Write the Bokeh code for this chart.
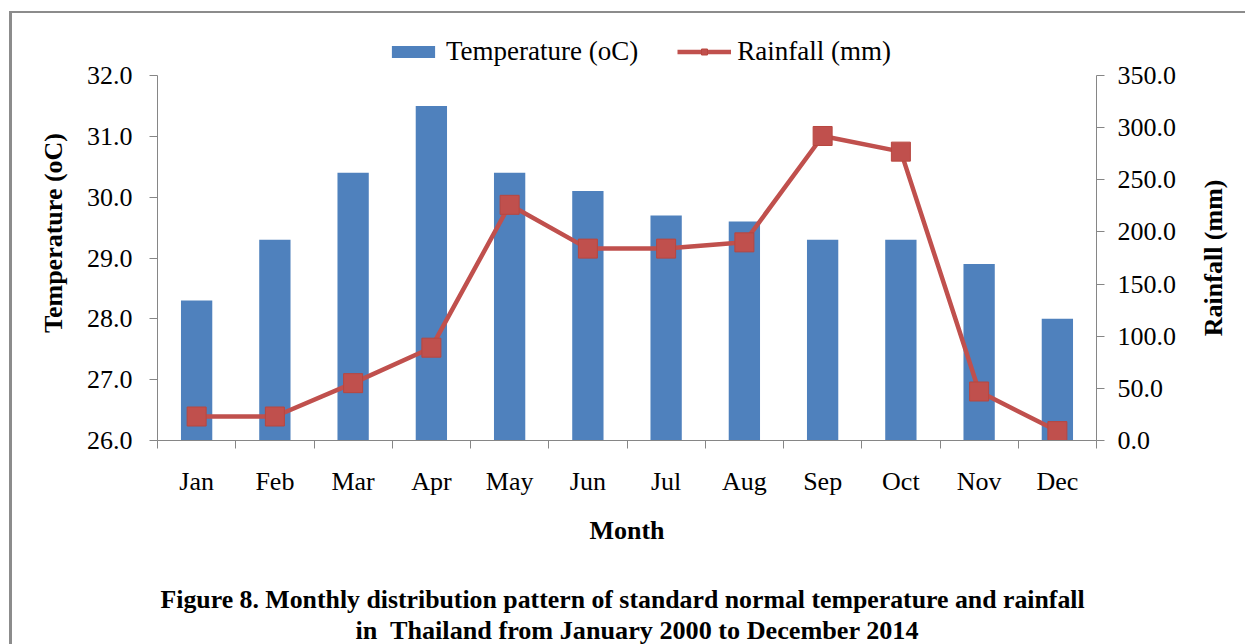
import numpy as np
from bokeh.plotting import figure
from bokeh.models import (Range1d, LinearAxis, FixedTicker, NumeralTickFormatter,
                          Legend, LegendItem, Title, ColumnDataSource)
from bokeh.embed import file_html
from bokeh.resources import INLINE

months = ["Jan", "Feb", "Mar", "Apr", "May", "Jun", "Jul", "Aug", "Sep", "Oct", "Nov", "Dec"]
temperature = [28.3, 29.3, 30.4, 31.5, 30.4, 30.1, 29.7, 29.6, 29.3, 29.3, 28.9, 28.0]
rainfall = [23, 23, 55, 89, 226, 184, 184, 190, 292, 277, 47, 9]
temp_ticks = [26, 27, 28, 29, 30, 31, 32]
rain_ticks = [0, 50, 100, 150, 200, 250, 300, 350]

FONT = "Liberation Serif"
GRAY = "#868686"
BLUE = "#4F81BD"
RED = "#C0504D"

# layout constants (pixels)
FRAME_TOP = 25          # frame extends above the axes' top to hold the legend
AXIS_TOP = 75
AXIS_BOTTOM = 440
head = (AXIS_TOP - FRAME_TOP) / (AXIS_BOTTOM - AXIS_TOP)   # fraction of axis span

t0, t1 = temp_ticks[0], temp_ticks[-1]
r0, r1 = rain_ticks[0], rain_ticks[-1]

centers = list(np.arange(len(months)) + 0.5)
bounds = list(np.arange(len(months) + 1).astype(float))

src = ColumnDataSource(dict(x=centers, temp=temperature, rain=rainfall, m=months))

p = figure(width=1245, height=644, output_backend="svg", toolbar_location=None,
           x_range=Range1d(0, len(months)),
           y_range=Range1d(t0, t1 + (t1 - t0) * head),
           min_border_left=157, min_border_right=148, min_border_top=FRAME_TOP,
           min_border_bottom=644 - AXIS_BOTTOM,
           x_axis_type=None, y_axis_type=None)
p.outline_line_color = None
p.background_fill_color = "white"
p.border_fill_alpha = 0
p.styles = {
    "background": "linear-gradient(#8c8c8c,#8c8c8c) 9px 11px / 3px 800px no-repeat, "
                  "linear-gradient(#8c8c8c,#8c8c8c) 9px 11px / 1400px 2px no-repeat, white"
}
p.extra_y_ranges = {"rain": Range1d(r0, r1 + (r1 - r0) * head)}

# x axis
xaxis = LinearAxis(ticker=FixedTicker(ticks=centers, minor_ticks=bounds))
xaxis.major_label_overrides = {float(c): m for c, m in zip(centers, months)}
xaxis.major_tick_line_color = None
xaxis.minor_tick_line_color = GRAY
xaxis.minor_tick_out = 8
xaxis.minor_tick_in = 0
xaxis.axis_line_color = GRAY
xaxis.major_label_text_font = FONT
xaxis.major_label_text_font_size = "26px"
xaxis.major_label_text_color = "black"
xaxis.major_label_standoff = 18
xaxis.axis_label = "Month"
xaxis.axis_label_text_font = FONT
xaxis.axis_label_text_font_size = "26px"
xaxis.axis_label_text_font_style = "bold"
xaxis.axis_label_text_color = "black"
xaxis.axis_label_standoff = 17
p.add_layout(xaxis, "below")

# left axis (temperature)
yaxis = LinearAxis(ticker=FixedTicker(ticks=temp_ticks), formatter=NumeralTickFormatter(format="0.0"),
                   bounds=(t0, t1))
yaxis.axis_line_color = GRAY
yaxis.major_tick_line_color = GRAY
yaxis.major_tick_out = 8
yaxis.major_tick_in = 0
yaxis.minor_tick_line_color = None
yaxis.major_label_text_font = FONT
yaxis.major_label_text_font_size = "26px"
yaxis.major_label_text_color = "black"
yaxis.major_label_standoff = 17
yaxis.axis_label = "Temperature (oC)"
yaxis.axis_label_text_font = FONT
yaxis.axis_label_text_font_size = "26px"
yaxis.axis_label_text_font_style = "bold"
yaxis.axis_label_text_color = "black"
yaxis.axis_label_standoff = 16
p.add_layout(yaxis, "left")

# right axis (rainfall)
raxis = LinearAxis(y_range_name="rain", ticker=FixedTicker(ticks=rain_ticks),
                   formatter=NumeralTickFormatter(format="0.0"), bounds=(r0, r1))
raxis.axis_line_color = GRAY
raxis.major_tick_line_color = GRAY
raxis.major_tick_out = 8
raxis.major_tick_in = 0
raxis.minor_tick_line_color = None
raxis.major_label_text_font = FONT
raxis.major_label_text_font_size = "26px"
raxis.major_label_text_color = "black"
raxis.major_label_standoff = 13
p.add_layout(raxis, "right")

# right axis title, reading bottom-to-top, drawn as the single label of a bare axis
title_start = 100
rtitle = LinearAxis(y_range_name="rain", ticker=FixedTicker(ticks=[title_start]))
rtitle.major_label_overrides = {title_start: "Rainfall (mm)"}
rtitle.major_label_orientation = np.pi / 2
rtitle.major_label_text_font = FONT
rtitle.major_label_text_font_size = "26px"
rtitle.major_label_text_font_style = "bold"
rtitle.major_label_text_color = "black"
rtitle.major_label_standoff = 34
rtitle.major_tick_line_color = None
rtitle.major_tick_out = 0
rtitle.minor_tick_line_color = None
rtitle.axis_line_color = None
p.add_layout(rtitle, "right")

p.ygrid.ticker = FixedTicker(ticks=temp_ticks)
p.ygrid.grid_line_color = GRAY
p.ygrid.grid_line_width = 1.5

# data
bars = p.vbar(x="x", top="temp", bottom=t0, width=0.4, source=src,
              fill_color=BLUE, line_color=None)
line = p.line(x="x", y="rain", source=src, y_range_name="rain", line_color=RED, line_width=4.5)
pts = p.scatter(x="x", y="rain", source=src, y_range_name="rain", marker="square", size=19,
                fill_color=RED, line_color="#B8463F", line_width=1)

legend = Legend(items=[LegendItem(label="Temperature (oC)", renderers=[bars]),
                       LegendItem(label="Rainfall (mm)", renderers=[line, pts])],
                orientation="horizontal", location=(229, 373))
legend.label_text_font = FONT
legend.label_text_font_size = "27px"
legend.label_text_color = "black"
legend.glyph_width = 54
legend.glyph_height = 15
legend.label_standoff = 6
legend.spacing = 39
legend.padding = 10
legend.margin = 0
legend.border_line_color = None
legend.background_fill_alpha = 0
p.add_layout(legend, "center")

# figure caption below the chart
spacer = Title(text=" ", text_font_size="1px", standoff=32)
cap1 = Title(text="Figure 8. Monthly distribution pattern of standard normal temperature and rainfall",
             align="left", offset=3, standoff=0, text_font=FONT, text_font_size="25.8px",
             text_font_style="bold", text_color="black")
cap2 = Title(text="in\u00a0 Thailand from January 2000 to December 2014",
             align="left", offset=198, standoff=0, text_font=FONT, text_font_size="26.2px",
             text_font_style="bold", text_color="black")
p.add_layout(spacer, "below")
p.add_layout(cap1, "below")
p.add_layout(cap2, "below")

open("out.html", "w").write(file_html(p, INLINE))
